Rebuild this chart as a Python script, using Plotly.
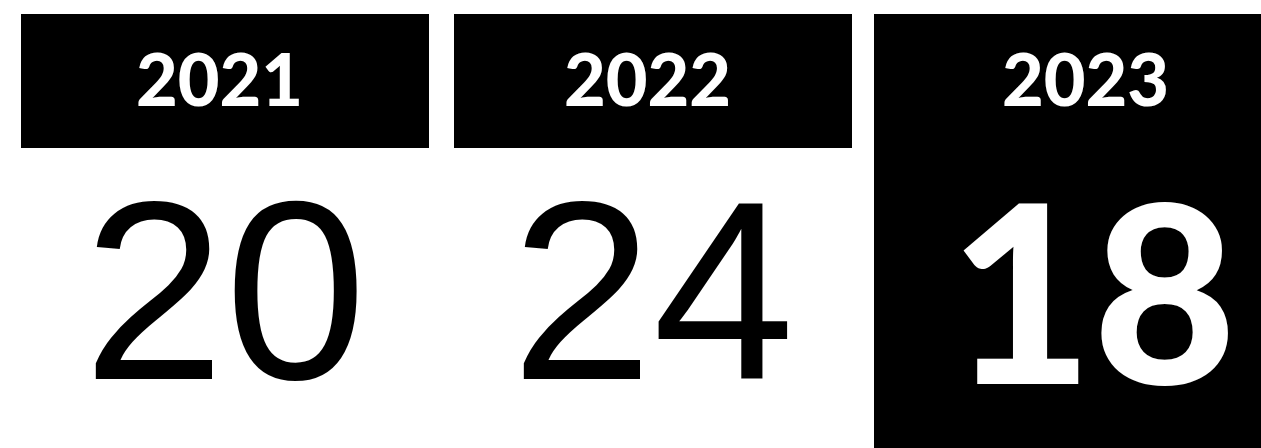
import plotly.graph_objects as go

# ---- data ----
years = ["2021", "2022", "2023"]
values = [20, 24, 18]
highlight = [False, False, True]

# ---- layout constants (page pixels) ----
W, H = 1261, 448
panel_left = [21, 454, 874]
panel_right = [429, 852, 1308]
header_top, header_bottom = 14, 148

fig = go.Figure()
shapes = []
annotations = []
for i, (yr, val, hl) in enumerate(zip(years, values, highlight)):
    x0, x1 = panel_left[i], panel_right[i]
    cx = (x0 + x1) / 2
    shapes.append(dict(type="rect", xref="x", yref="y", x0=x0, x1=x1,
                       y0=header_top, y1=(H + 20 if hl else header_bottom),
                       fillcolor="black", line=dict(width=0), layer="below"))
    annotations.append(dict(x=cx - 6, y=(header_top + header_bottom) / 2 - 3,
                            xref="x", yref="y", text=yr, showarrow=False,
                            font=dict(family="Lato", size=72, color="white", weight=900),
                            xanchor="center", yanchor="middle"))
    annotations.append(dict(x=cx + (2 if hl else 0), y=290 if not hl else 288, xref="x", yref="y",
                            text=str(val), showarrow=False,
                            font=dict(family="Lato" if hl else "Liberation Sans",
                                      size=248 if hl else 255,
                                      color="white" if hl else "black",
                                      weight=900 if hl else 400),
                            xanchor="center", yanchor="middle"))

fig.update_layout(
    width=W, height=H,
    margin=dict(l=0, r=0, t=0, b=0),
    paper_bgcolor="white", plot_bgcolor="white",
    xaxis=dict(range=[0, W], visible=False, fixedrange=True),
    yaxis=dict(range=[H, 0], visible=False, fixedrange=True),
    shapes=shapes, annotations=annotations, showlegend=False,
)
fig.write_html("out.html", config={"displayModeBar": False},
               post_script="document.body.style.margin='0';document.body.style.overflow='hidden';")
